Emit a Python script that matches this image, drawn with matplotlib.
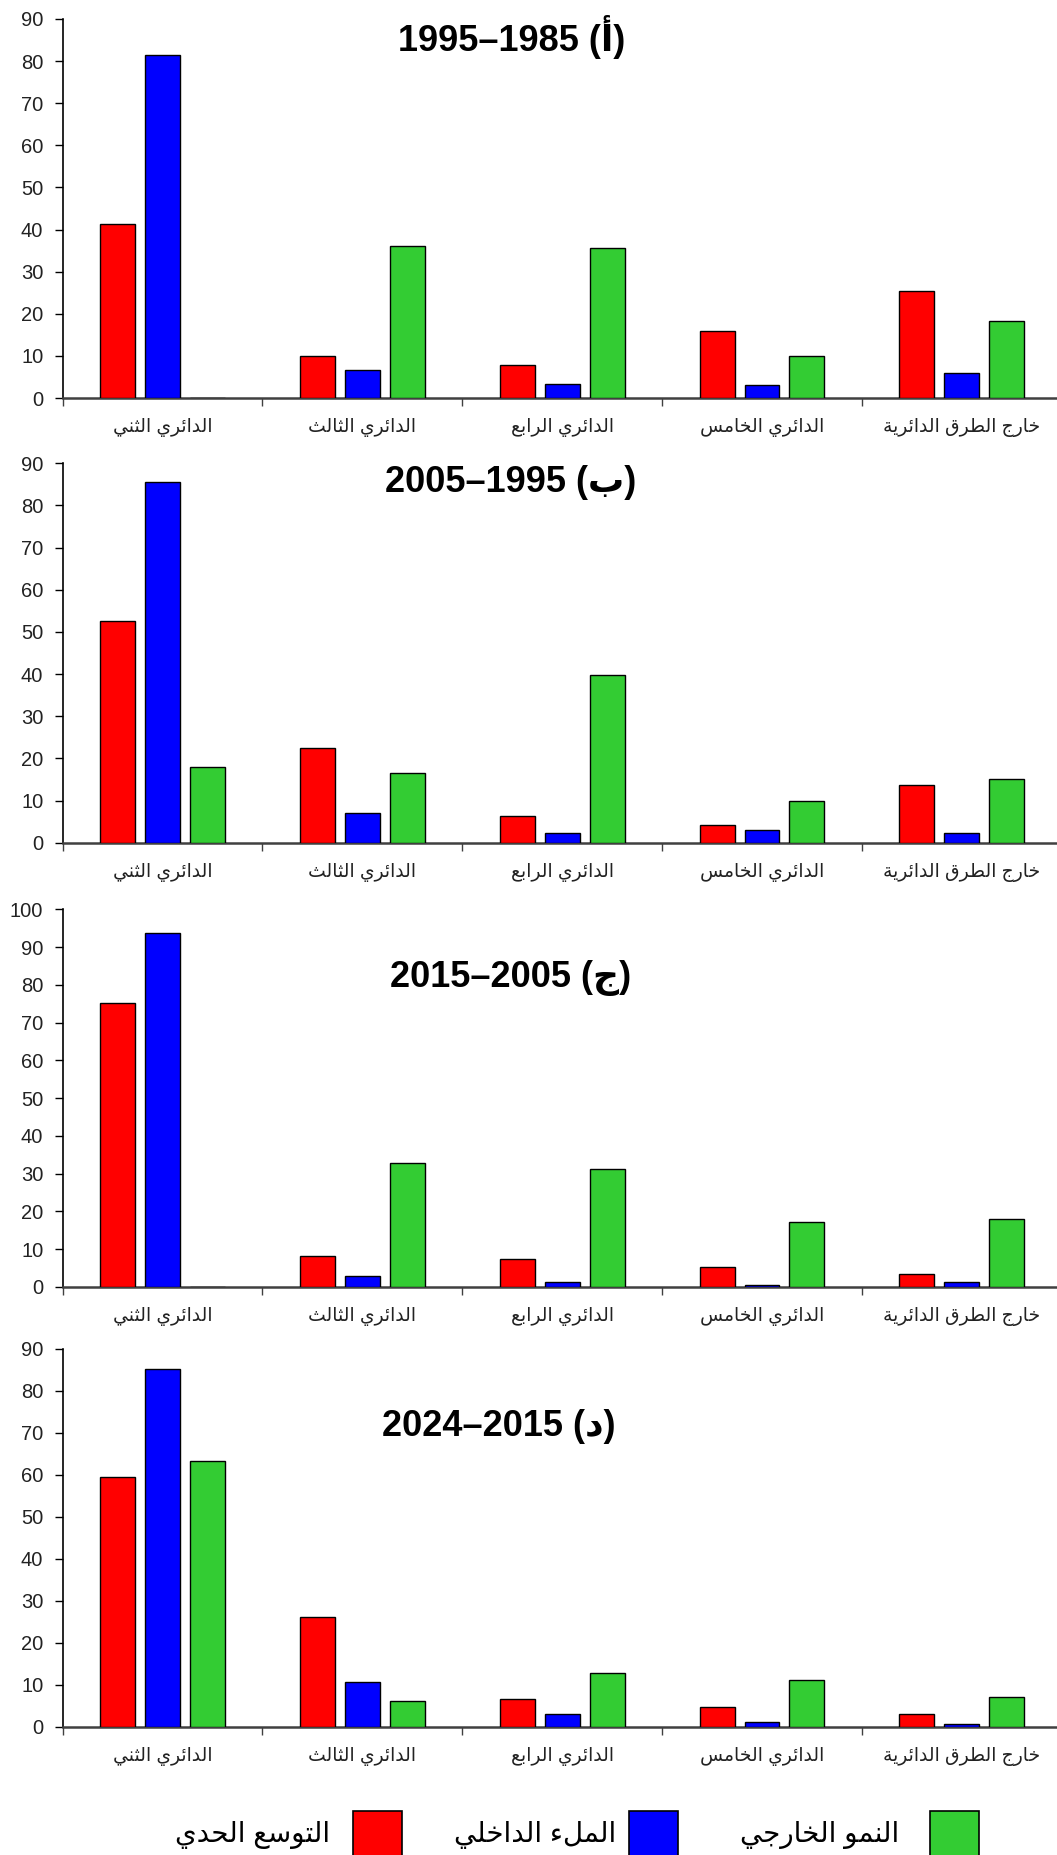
import numpy as np
import matplotlib
matplotlib.use("Agg")
import matplotlib.pyplot as plt
from matplotlib.patches import Rectangle

# ---------------------------------------------------------------------------
# Data
# ---------------------------------------------------------------------------
categories = ["الدائري الثني", "الدائري الثالث", "الدائري الرابع",
              "الدائري الخامس", "خارج الطرق الدائرية"]
series_names = ["التوسع الحدي", "الملء الداخلي", "النمو الخارجي"]

panel_titles = ["1995–1985 (أ)", "2005–1995 (ب)", "2015–2005 (ج)", "2024–2015 (د)"]

# edge expansion / infill / outlying growth for each period
edge_1985_1995 = [41.3, 10.0, 7.8, 15.9, 25.5]
infill_1985_1995 = [81.5, 6.7, 3.4, 3.0, 6.0]
outlying_1985_1995 = [0.0, 36.1, 35.7, 10.0, 18.2]

edge_1995_2005 = [52.7, 22.5, 6.3, 4.1, 13.7]
infill_1995_2005 = [85.5, 7.0, 2.3, 3.0, 2.2]
outlying_1995_2005 = [18.0, 16.6, 39.8, 10.0, 15.1]

edge_2005_2015 = [75.3, 8.2, 7.4, 5.4, 3.4]
infill_2005_2015 = [93.8, 2.9, 1.3, 0.4, 1.3]
outlying_2005_2015 = [0.0, 32.9, 31.3, 17.2, 18.1]

edge_2015_2024 = [59.6, 26.3, 6.7, 4.8, 3.1]
infill_2015_2024 = [85.2, 10.7, 3.0, 1.1, 0.7]
outlying_2015_2024 = [63.3, 6.3, 12.9, 11.1, 7.2]

y_max = [90, 90, 100, 90]

# ---------------------------------------------------------------------------
# Minimal Arabic shaping (contextual forms + visual ordering)
# ---------------------------------------------------------------------------
# letter: (isolated, final, initial, medial); two entries -> right-joining only
FORMS = {
    "ء": ("\uFE80",),
    "أ": ("\uFE83", "\uFE84"),
    "ئ": ("\uFE89", "\uFE8A", "\uFE8B", "\uFE8C"),
    "ا": ("\uFE8D", "\uFE8E"),
    "ب": ("\uFE8F", "\uFE90", "\uFE91", "\uFE92"),
    "ة": ("\uFE93", "\uFE94"),
    "ت": ("\uFE95", "\uFE96", "\uFE97", "\uFE98"),
    "ث": ("\uFE99", "\uFE9A", "\uFE9B", "\uFE9C"),
    "ج": ("\uFE9D", "\uFE9E", "\uFE9F", "\uFEA0"),
    "ح": ("\uFEA1", "\uFEA2", "\uFEA3", "\uFEA4"),
    "خ": ("\uFEA5", "\uFEA6", "\uFEA7", "\uFEA8"),
    "د": ("\uFEA9", "\uFEAA"),
    "ر": ("\uFEAD", "\uFEAE"),
    "س": ("\uFEB1", "\uFEB2", "\uFEB3", "\uFEB4"),
    "ط": ("\uFEC1", "\uFEC2", "\uFEC3", "\uFEC4"),
    "ع": ("\uFEC9", "\uFECA", "\uFECB", "\uFECC"),
    "ق": ("\uFED5", "\uFED6", "\uFED7", "\uFED8"),
    "ل": ("\uFEDD", "\uFEDE", "\uFEDF", "\uFEE0"),
    "م": ("\uFEE1", "\uFEE2", "\uFEE3", "\uFEE4"),
    "ن": ("\uFEE5", "\uFEE6", "\uFEE7", "\uFEE8"),
    "و": ("\uFEED", "\uFEEE"),
    "ي": ("\uFEF1", "\uFEF2", "\uFEF3", "\uFEF4"),
}


def shape_ar(text):
    out = []
    n = len(text)
    for i, ch in enumerate(text):
        forms = FORMS.get(ch)
        if forms is None:
            out.append(ch)
            continue
        prev = text[i - 1] if i > 0 else ""
        nxt = text[i + 1] if i < n - 1 else ""
        join_prev = prev in FORMS and len(FORMS[prev]) == 4
        join_next = len(forms) == 4 and nxt in FORMS and len(FORMS[nxt]) >= 2
        if join_prev and join_next:
            out.append(forms[3])
        elif join_prev and len(forms) >= 2:
            out.append(forms[1])
        elif join_next:
            out.append(forms[2])
        else:
            out.append(forms[0])
    return "".join(out)[::-1]


def shape_title(text):
    # numbers stay left-to-right, only the letter in brackets needs a glyph form
    return "".join(FORMS[c][0] if c in FORMS else c for c in text)


# ---------------------------------------------------------------------------
# Figure
# ---------------------------------------------------------------------------
W, H = 1057, 1855
fig = plt.figure(figsize=(W / 100, H / 100), dpi=100)
fig.patch.set_facecolor("white")

FONT = ["Liberation Sans", "DejaVu Sans"]
colors = ["#FF0000", "#0000FF", "#33CC33"]

panels = [
    (edge_1985_1995, infill_1985_1995, outlying_1985_1995),
    (edge_1995_2005, infill_1995_2005, outlying_1995_2005),
    (edge_2005_2015, infill_2005_2015, outlying_2005_2015),
    (edge_2015_2024, infill_2015_2024, outlying_2015_2024),
]
# axes extents in pixels (top, bottom)
extents = [(19, 398), (463.3, 842.7), (909.3, 1287), (1349, 1727)]
title_pos = [(512, 37), (511, 483), (511, 978), (499, 1427)]

ax_left, ax_right = 62.7, 1061.7
x = np.arange(len(categories))
bar_w = 0.175
offsets = [-0.225, 0.0, 0.225]
label_color = "#222222"

for k, (series, (top, bottom)) in enumerate(zip(panels, extents)):
    ax = fig.add_axes([ax_left / W, (H - bottom) / H,
                       (ax_right - ax_left) / W, (bottom - top) / H])
    for vals, off, col in zip(series, offsets, colors):
        ax.bar(x + off, vals, width=bar_w, color=col,
               edgecolor="black", linewidth=1.0, zorder=3)

    ax.set_xlim(-0.5, len(categories) - 0.5)
    ax.set_ylim(0, y_max[k])
    ax.set_yticks(np.arange(0, y_max[k] + 1, 10))
    ax.tick_params(axis="y", direction="out", length=6, width=1.0,
                   pad=8, labelsize=14.5, labelcolor=label_color)
    for t in ax.get_yticklabels():
        t.set_fontfamily(FONT)

    ax.set_xticks(np.arange(-0.5, len(categories) + 0.5, 1.0))
    ax.set_xticklabels([])
    ax.tick_params(axis="x", which="major", direction="out",
                   length=6, width=1.0, color="#404040")
    ax.set_xticks(x, minor=True)
    ax.set_xticklabels([shape_ar(c) for c in categories], minor=True,
                       fontsize=13.5, color=label_color, fontfamily=FONT)
    ax.tick_params(axis="x", which="minor", length=0, pad=14.5)

    for side in ("top", "right"):
        ax.spines[side].set_visible(False)
    ax.spines["left"].set_linewidth(1.2)
    ax.spines["bottom"].set_linewidth(1.8)
    ax.spines["bottom"].set_color("#404040")
    ax.set_facecolor("none")

    tx, ty = title_pos[k]
    fig.text(tx / W, 1 - ty / H, shape_title(panel_titles[k]),
             fontsize=26, fontweight="bold", ha="center", va="center",
             fontfamily=FONT, color="black")

# Legend drawn as swatches with right-to-left text
legend_boxes = [352.7, 628.7, 930.0]
legend_text_right = [330, 616, 899]
box_top, box_size = 1811, 49
for name, col, bx, tr in zip(series_names, colors, legend_boxes, legend_text_right):
    fig.add_artist(Rectangle((bx / W, 1 - (box_top + box_size) / H),
                             box_size / W, box_size / H,
                             transform=fig.transFigure, facecolor=col,
                             edgecolor="black", linewidth=1.2))
    fig.text(tr / W, 1 - 1835 / H, shape_ar(name), fontsize=20,
             ha="right", va="center", fontfamily=FONT, color="black")

fig.savefig("out.png", dpi=100, facecolor="white")
